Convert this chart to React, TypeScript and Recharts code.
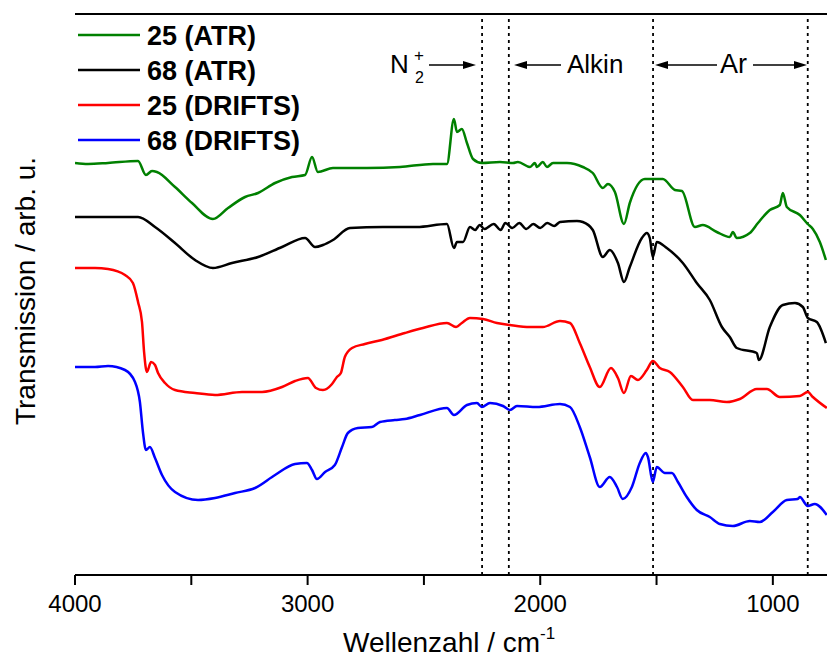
import React from "react";
import { LineChart, Line, XAxis, YAxis, ReferenceLine } from "recharts";

// [wavenumber cm-1, transmission arb. u.]
const atr25: number[][] = [
  [4000, 412], [3944, 411], [3858, 412], [3729, 414], [3695, 400], [3669, 404], [3648, 403],
  [3570, 388], [3497, 372], [3407, 356], [3342, 367], [3269, 378], [3213, 382], [3140, 392],
  [3067, 398], [3011, 400], [2981, 418], [2956, 403], [2891, 407], [2745, 407], [2603, 408],
  [2461, 411], [2401, 411], [2371, 456], [2358, 443], [2337, 446], [2315, 432], [2289, 416],
  [2251, 412], [2173, 413], [2117, 412], [2096, 413], [2044, 408], [2023, 412], [2014, 408],
  [1989, 413], [1971, 408], [1945, 412], [1915, 412], [1885, 412], [1817, 408], [1774, 402],
  [1731, 387], [1709, 391], [1679, 383], [1640, 351], [1615, 372], [1550, 396], [1473, 396],
  [1421, 385], [1391, 384], [1335, 348], [1301, 350], [1241, 343], [1185, 338], [1172, 343],
  [1155, 337], [1099, 342], [1064, 352], [1013, 365], [970, 370], [957, 382], [940, 368],
  [884, 360], [850, 351], [828, 346], [798, 333], [772, 315],
];

const atr68: number[][] = [
  [4000, 358], [3858, 358], [3729, 358], [3656, 348], [3570, 332], [3484, 315], [3407, 307],
  [3325, 312], [3213, 318], [3110, 328], [3011, 337], [2968, 328], [2934, 330], [2891, 335],
  [2818, 347], [2676, 348], [2530, 348], [2401, 351], [2371, 327], [2358, 333], [2332, 333],
  [2302, 348], [2280, 345], [2260, 350], [2240, 346], [2200, 351], [2170, 345], [2150, 352],
  [2120, 347], [2090, 352], [2060, 346], [2030, 351], [2000, 347], [1970, 352], [1940, 349],
  [1915, 353], [1842, 354], [1817, 353], [1774, 345], [1731, 318], [1701, 325], [1666, 312],
  [1640, 293], [1615, 308], [1563, 337], [1542, 342], [1529, 337], [1516, 318], [1499, 333],
  [1456, 327], [1387, 312], [1327, 292], [1271, 275], [1219, 248], [1185, 238], [1155, 227],
  [1069, 222], [1060, 215], [1013, 248], [957, 270], [905, 272], [871, 268], [850, 257],
  [811, 253], [772, 232],
];

const drifts25: number[][] = [
  [4000, 307], [3914, 307], [3858, 306], [3785, 300], [3751, 292], [3729, 273], [3712, 253],
  [3703, 223], [3691, 203], [3673, 213], [3656, 210], [3643, 202], [3613, 192], [3570, 185],
  [3484, 182], [3398, 180], [3282, 183], [3196, 183], [3110, 188], [3054, 194], [2999, 197],
  [2964, 187], [2934, 185], [2895, 191], [2874, 198], [2857, 202], [2840, 218], [2809, 227],
  [2754, 231], [2681, 235], [2582, 242], [2504, 247], [2401, 252], [2362, 248], [2337, 252],
  [2302, 257], [2246, 256], [2186, 252], [2130, 250], [2044, 248], [1989, 248], [1915, 254],
  [1872, 252], [1830, 232], [1787, 208], [1744, 188], [1696, 207], [1666, 197], [1640, 182],
  [1610, 199], [1580, 195], [1542, 205], [1516, 214], [1486, 207], [1443, 203], [1387, 188],
  [1344, 175], [1271, 175], [1198, 173], [1142, 176], [1069, 186], [1026, 186], [970, 178],
  [884, 179], [850, 183], [828, 178], [768, 167],
];

const drifts68: number[][] = [
  [4000, 208], [3914, 208], [3858, 209], [3785, 205], [3742, 193], [3721, 173], [3708, 143],
  [3695, 125], [3678, 128], [3656, 117], [3626, 100], [3570, 83], [3471, 75], [3398, 77],
  [3312, 82], [3226, 87], [3140, 100], [3054, 111], [3003, 112], [2981, 105], [2960, 96],
  [2925, 103], [2883, 110], [2852, 128], [2827, 142], [2784, 147], [2724, 148], [2689, 153],
  [2625, 155], [2582, 156], [2517, 160], [2401, 167], [2371, 160], [2315, 170], [2272, 172],
  [2251, 168], [2216, 172], [2160, 169], [2130, 165], [2100, 169], [2014, 168], [1915, 171],
  [1872, 168], [1830, 148], [1787, 118], [1744, 88], [1701, 98], [1670, 88], [1645, 76],
  [1606, 88], [1572, 112], [1546, 122], [1537, 118], [1516, 93], [1499, 108], [1464, 102],
  [1434, 102], [1408, 93], [1370, 78], [1327, 65], [1271, 58], [1228, 51], [1172, 49],
  [1099, 54], [1056, 53], [1000, 63], [940, 75], [893, 76], [884, 78], [850, 69], [820, 71],
  [768, 60],
];

const series = [
  { name: "25 (ATR)", color: "#008000", points: atr25 },
  { name: "68 (ATR)", color: "#000000", points: atr68 },
  { name: "25 (DRIFTS)", color: "#ff0000", points: drifts25 },
  { name: "68 (DRIFTS)", color: "#0000ff", points: drifts68 },
];

const xTicks = [4000, 3500, 3000, 2500, 2000, 1500, 1000];
const regionLines = [2250, 2135, 1515, 850];

const font = "'Liberation Sans', Arial, sans-serif";

const toRows = (pts: number[][]) => pts.map(([wn, t]) => ({ wn, t }));

const XTick = (props: any) => {
  const { x, y, payload } = props;
  if (payload.value % 1000 !== 0) return null;
  return (
    <text x={x} y={y + 25} textAnchor="middle" fontSize={24} fontFamily={font} fill="#000">
      {payload.value}
    </text>
  );
};

const Arrow = ({ x1, x2, y }: { x1: number; x2: number; y: number }) => {
  const dir = x2 > x1 ? 1 : -1;
  return (
    <g>
      <line x1={x1} y1={y} x2={x2 - dir * 10} y2={y} stroke="#000" strokeWidth={1.3} />
      <polygon points={`${x2},${y} ${x2 - dir * 13},${y - 4} ${x2 - dir * 13},${y + 4}`} fill="#000" />
    </g>
  );
};

export default function App() {
  return (
    <div style={{ position: "fixed", left: 0, top: 0, width: 827, height: 657, overflow: "hidden", background: "#fff" }}>
      <LineChart width={840} height={657} margin={{ top: 14, right: 9, bottom: 0, left: 75 }}>
        <XAxis
          dataKey="wn"
          type="number"
          domain={[750, 4000]}
          reversed
          allowDataOverflow
          ticks={xTicks}
          interval={0}
          height={82}
          tickSize={10}
          tick={<XTick />}
          axisLine={{ stroke: "#000", strokeWidth: 2 }}
          tickLine={{ stroke: "#000", strokeWidth: 2 }}
        />
        <YAxis
          type="number"
          domain={[0, 561]}
          allowDataOverflow
          width={0}
          tick={false}
          tickLine={false}
          axisLine={{ stroke: "#000", strokeWidth: 2 }}
        />
        <ReferenceLine y={561} stroke="#000" strokeWidth={2} />
        {regionLines.map((x) => (
          <ReferenceLine key={x} x={x} stroke="#000" strokeWidth={1.8} strokeDasharray="3 4" />
        ))}
        {series.map((s) => (
          <Line
            key={s.name}
            data={toRows(s.points)}
            dataKey="t"
            name={s.name}
            type="monotone"
            stroke={s.color}
            strokeWidth={2.5}
            dot={false}
            isAnimationActive={false}
          />
        ))}
      </LineChart>
      <svg width={827} height={657} style={{ position: "absolute", left: 0, top: 0, pointerEvents: "none" }}>
        {/* legend */}
        {series.map((s, i) => (
          <g key={s.name}>
            <line x1={78} x2={140} y1={35 + i * 35} y2={35 + i * 35} stroke={s.color} strokeWidth={2.5} />
            <text x={147} y={45 + i * 35} fontSize={27} fontWeight="bold" fontFamily={font} fill="#000">
              {s.name}
            </text>
          </g>
        ))}
        {/* region annotations */}
        <text x={390} y={73} fontSize={26} fontFamily={font} fill="#000">N</text>
        <text x={415} y={83} fontSize={16} fontFamily={font} fill="#000">2</text>
        <text x={414} y={61} fontSize={17} fontFamily={font} fill="#000">+</text>
        <Arrow x1={429} x2={476} y={65} />
        <Arrow x1={561} x2={514} y={65} />
        <text x={567} y={73} fontSize={26} fontFamily={font} fill="#000">Alkin</text>
        <Arrow x1={717} x2={655} y={65} />
        <text x={720} y={73} fontSize={27} fontFamily={font} fill="#000">Ar</text>
        <Arrow x1={753} x2={807} y={65} />
        {/* axis titles */}
        <text x={343} y={652} fontSize={28} fontFamily={font} fill="#000">
          Wellenzahl / cm
          <tspan fontSize={17} dy={-13}>-1</tspan>
        </text>
        <text
          transform="translate(35,291) rotate(-90)"
          textAnchor="middle"
          fontSize={28}
          fontFamily={font}
          fill="#000"
        >
          Transmission / arb. u.
        </text>
      </svg>
    </div>
  );
}
